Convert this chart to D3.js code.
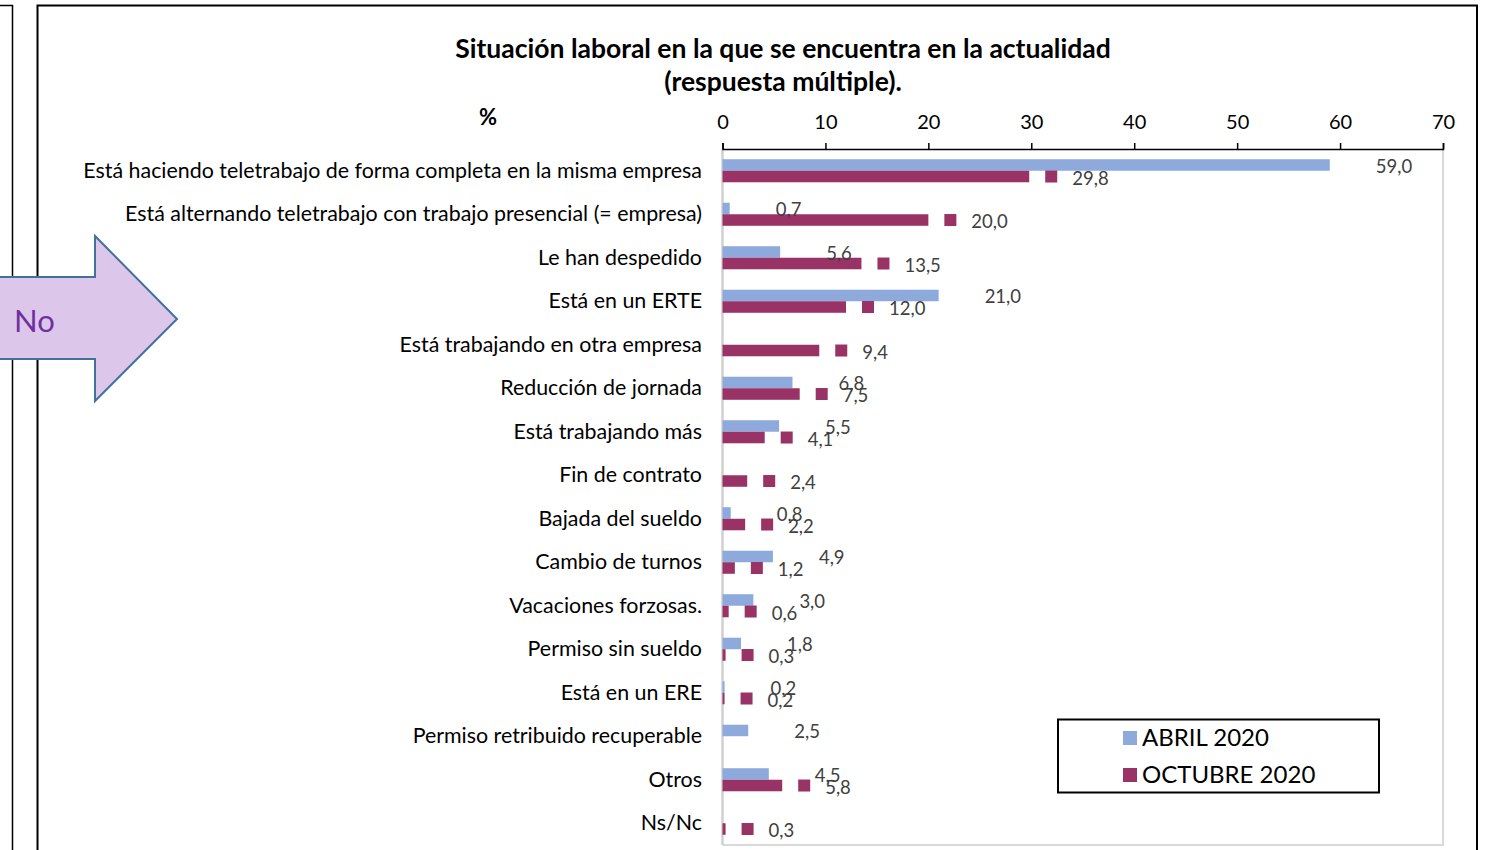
<!DOCTYPE html>
<html>
<head>
<meta charset="utf-8">
<script src="https://cdn.jsdelivr.net/npm/d3@7"></script>
<style>
  body { margin: 0; background: #fff; }
  svg { display: block; font-family: Lato, "Open Sans", sans-serif; }
</style>
</head>
<body>
<div id="chart"></div>
<script>
// datos (%)
const categorias = [
  "Está haciendo teletrabajo de forma completa en la misma empresa",
  "Está alternando teletrabajo con trabajo presencial (= empresa)",
  "Le han despedido",
  "Está en un ERTE",
  "Está trabajando en otra empresa",
  "Reducción de jornada",
  "Está trabajando más",
  "Fin de contrato",
  "Bajada del sueldo",
  "Cambio de turnos",
  "Vacaciones forzosas.",
  "Permiso sin sueldo",
  "Está en un ERE",
  "Permiso retribuido recuperable",
  "Otros",
  "Ns/Nc"
];
const abril2020 = [59.0, 0.7, 5.6, 21.0, null, 6.8, 5.5, null, 0.8, 4.9, 3.0, 1.8, 0.2, 2.5, 4.5, null];
const octubre2020 = [29.8, 20.0, 13.5, 12.0, 9.4, 7.5, 4.1, 2.4, 2.2, 1.2, 0.6, 0.3, 0.2, null, 5.8, 0.3];
const series = ["ABRIL 2020", "OCTUBRE 2020"];
const ticks = [0, 10, 20, 30, 40, 50, 60, 70];

const colores = { "ABRIL 2020": "#8eaadc", "OCTUBRE 2020": "#993366" };
const fmt = (v) => v.toFixed(1).replace(".", ",");

const W = 1486, H = 850;
const plot = { left: 722.5, right: 1443, top: 149, bottom: 845 };

const svg = d3.select("#chart").append("svg")
  .attr("width", W).attr("height", H);

// marcos de fondo
svg.append("path")
  .attr("d", "M0,5.5H12.5V850")
  .attr("fill", "none").attr("stroke", "#000").attr("stroke-width", 1.5);
svg.append("path")
  .attr("d", "M37.5,850V5.5H1477V850")
  .attr("fill", "none").attr("stroke", "#000").attr("stroke-width", 2);

// escalas
const x = d3.scaleLinear().domain([0, 70]).range([plot.left, plot.right]);
const y = d3.scaleBand().domain(categorias)
  .range([plot.top, plot.bottom]).paddingInner(0.47).paddingOuter(0.235);
const ySub = d3.scaleBand().domain(series).range([0, y.bandwidth()]);

// borde del área de trazado
svg.append("path")
  .attr("d", `M${plot.right},${plot.top}V${plot.bottom}H${plot.left}`)
  .attr("fill", "none").attr("stroke", "#d9d9d9").attr("stroke-width", 2);
svg.append("line")
  .attr("x1", plot.left).attr("x2", plot.left)
  .attr("y1", plot.top).attr("y2", plot.bottom)
  .attr("stroke", "#d0d0d0").attr("stroke-width", 2.5);

// título
svg.append("text")
  .attr("x", 783).attr("y", 58)
  .attr("text-anchor", "middle").attr("font-size", 26.5).attr("font-weight", "bold")
  .text("Situación laboral en la que se encuentra en la actualidad");
svg.append("text")
  .attr("x", 783).attr("y", 91)
  .attr("text-anchor", "middle").attr("font-size", 26.5).attr("font-weight", "bold")
  .text("(respuesta múltiple).");
svg.append("text")
  .attr("x", 488).attr("y", 125)
  .attr("text-anchor", "middle").attr("font-size", 22).attr("font-weight", "bold")
  .text("%");

// eje superior
const ax = svg.append("g")
  .attr("transform", `translate(0,${plot.top})`)
  .call(d3.axisTop(x).tickValues(ticks).tickSize(6).tickPadding(14));
ax.select(".domain").attr("stroke", "#000").attr("stroke-width", 1.5);
ax.selectAll(".tick line").attr("stroke", "#000").attr("stroke-width", 1.5);
ax.selectAll(".tick text")
  .attr("font-family", "Lato, sans-serif").attr("font-size", 20).attr("fill", "#000");

// etiquetas de categoría
svg.append("g").selectAll("text")
  .data(categorias)
  .join("text")
  .attr("x", 702)
  .attr("y", (d) => y(d) + y.bandwidth() / 2 - 1)
  .attr("text-anchor", "end").attr("dominant-baseline", "central")
  .attr("font-size", 21.4).attr("fill", "#000")
  .text((d) => d);

// datos por fila
const filas = categorias.map((c, i) => ({
  cat: c,
  valores: [
    { serie: series[0], v: abril2020[i] },
    { serie: series[1], v: octubre2020[i] }
  ].filter((d) => d.v !== null)
}));

const grupos = svg.append("g").selectAll("g")
  .data(filas)
  .join("g")
  .attr("transform", (d) => `translate(0,${y(d.cat)})`);

grupos.selectAll("rect.bar")
  .data((d) => d.valores)
  .join("rect")
  .attr("class", "bar")
  .attr("x", x(0))
  .attr("y", (d) => ySub(d.serie))
  .attr("width", (d) => x(d.v) - x(0))
  .attr("height", ySub.bandwidth())
  .attr("fill", (d) => colores[d.serie]);

// marcador de leyenda en las etiquetas de octubre
grupos.selectAll("rect.key")
  .data((d) => d.valores.filter((v) => v.serie === series[1]))
  .join("rect")
  .attr("class", "key")
  .attr("x", (d) => x(d.v) + 16)
  .attr("y", (d) => ySub(d.serie) + ySub.bandwidth() / 2 - 6)
  .attr("width", 12).attr("height", 12)
  .attr("fill", colores[series[1]]);

grupos.selectAll("text.lbl")
  .data((d) => d.valores)
  .join("text")
  .attr("class", "lbl")
  .attr("x", (d) => x(d.v) + (d.serie === series[0] ? 46 : 43))
  .attr("y", (d) => ySub(d.serie) + ySub.bandwidth() / 2 + 1)
  .attr("dominant-baseline", "central")
  .attr("font-size", 18.5).attr("fill", "#404040")
  .text((d) => fmt(d.v));

// leyenda
const leg = svg.append("g");
leg.append("rect")
  .attr("x", 1058).attr("y", 719.5).attr("width", 321).attr("height", 73)
  .attr("fill", "#fff").attr("stroke", "#000").attr("stroke-width", 2);
series.forEach((s, i) => {
  leg.append("rect")
    .attr("x", 1123).attr("y", 731 + i * 37).attr("width", 14).attr("height", 14)
    .attr("fill", colores[s]);
  leg.append("text")
    .attr("x", 1142).attr("y", 736 + i * 37)
    .attr("dominant-baseline", "central")
    .attr("font-size", 24).attr("fill", "#000")
    .text(s);
});

// flecha "No"
svg.append("path")
  .attr("d", "M-5,277H95V236L177,319L95,401V359H-5Z")
  .attr("fill", "#dcc6ea").attr("stroke", "#41719c").attr("stroke-width", 2);
svg.append("text")
  .attr("x", 14).attr("y", 320)
  .attr("dominant-baseline", "central")
  .attr("font-size", 31).attr("fill", "#7030a0")
  .text("No");
</script>
</body>
</html>
